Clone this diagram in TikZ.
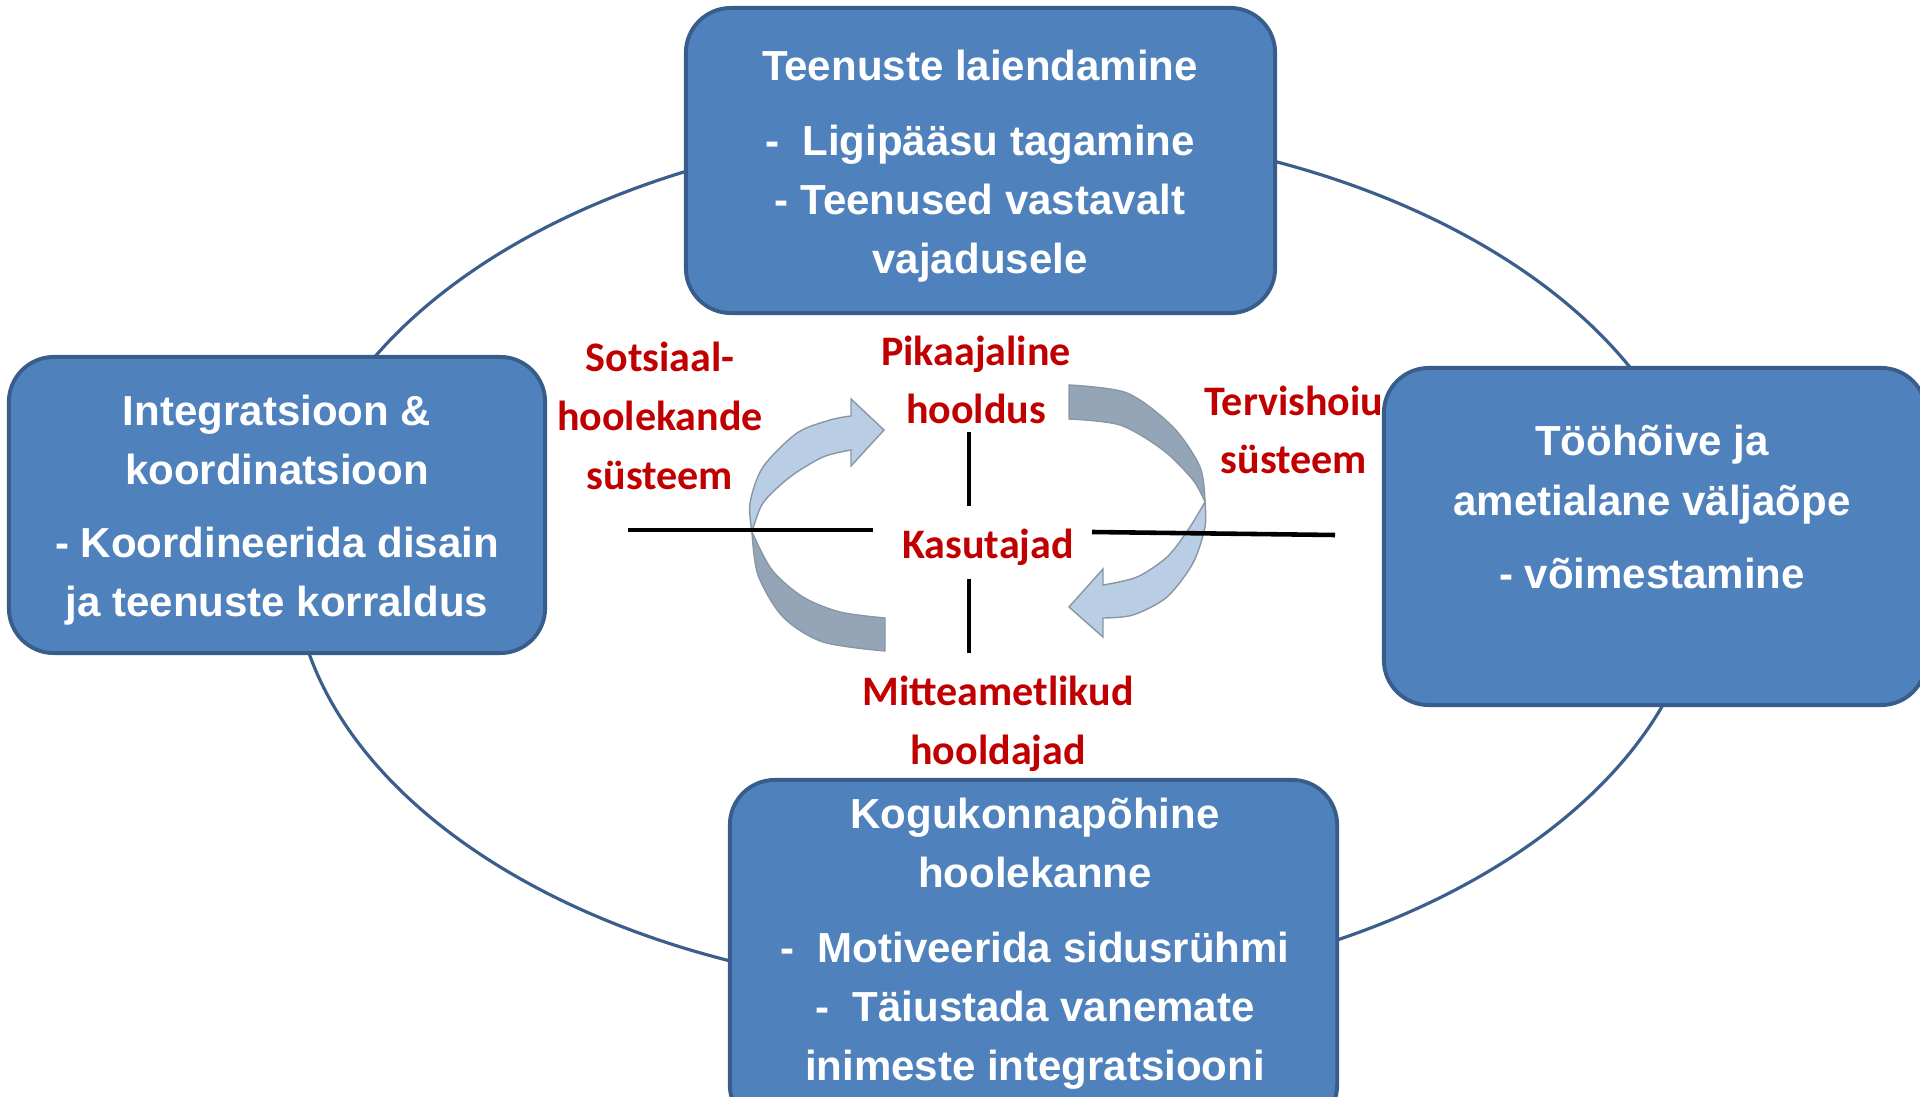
\documentclass[tikz,border=0pt]{standalone}
\usepackage{fontspec}
\setmainfont{Liberation Sans}
\newfontfamily\calibrifont{Carlito}
\usepackage{tikz}

\begin{document}
\begin{tikzpicture}[x=0.01cm,y=-0.01cm,
    box/.style={draw=boxline,fill=boxfill,line width=1.1pt,rounded corners=0.45cm,inner sep=0pt,outer sep=0pt},
    boxtext/.style={text=white,font=\fontsize{11.95}{16.8}\selectfont\bfseries,align=center,inner sep=0pt},
    redtext/.style={text=redlabel,font=\calibrifont\fontsize{11.95}{16.7}\selectfont\bfseries,align=center,inner sep=0pt},
    ring/.style={draw=ringline,line width=0.9pt},
    crossline/.style={line width=1.3pt,black},
    lightarrow/.style={fill=arrowlight,draw=arrowedge,line width=0.4pt},
    darkarrow/.style={fill=arrowdark,draw=arrowedge,line width=0.4pt}]

    \definecolor{boxfill}{HTML}{4F81BD}
    \definecolor{boxline}{HTML}{385D8A}
    \definecolor{ringline}{HTML}{3B5E8C}
    \definecolor{redlabel}{HTML}{C00000}
    \definecolor{arrowlight}{HTML}{B9CDE5}
    \definecolor{arrowdark}{HTML}{95A5B8}
    \definecolor{arrowedge}{HTML}{8A96A4}
    \useasboundingbox (0,0) rectangle (1920,1097);
    \clip (0,0) rectangle (1920,1097);

    \draw[ring] (998,560) ellipse [x radius=7.05cm, y radius=4.33cm];

    \filldraw[darkarrow] plot[smooth] coordinates {(752,532) (758,575) (783,617) (823,642) (885,651)} -- (885,618) -- plot[smooth] coordinates {(885,618) (840,612) (803,597) (772,570) (752,532)} -- cycle;
    \filldraw[lightarrow] plot[smooth] coordinates {(752,532) (750,503) (763,467) (797,433) (830,420) (851,416)} -- (851,399) -- (884,430) -- (851,466) -- plot[smooth] coordinates {(851,450) (823,457) (790,477) (763,503) (752,532)} -- cycle;
    \filldraw[darkarrow] plot[smooth] coordinates {(1069,385) (1127,393) (1173,427) (1200,467) (1205,502)} -- plot[smooth] coordinates {(1205,502) (1193,480) (1163,450) (1120,425) (1069,419)} -- cycle;
    \filldraw[lightarrow] plot[smooth] coordinates {(1205,502) (1205,527) (1193,563) (1167,597) (1133,615) (1103,618)} -- (1103,637) -- (1069,607) -- (1103,569) -- plot[smooth] coordinates {(1103,585) (1137,577) (1167,557) (1188,530) (1205,502)} -- cycle;

    \coordinate (westout) at (628,530);
    \coordinate (westin) at (873,530);
    \coordinate (eastin) at (1092,532);
    \coordinate (eastout) at (1335,535);
    \coordinate (northout) at (969,432);
    \coordinate (northin) at (969,506);
    \coordinate (southin) at (969,579);
    \coordinate (southout) at (969,653);
    \draw[crossline] (westout) -- (westin);
    \draw[crossline] (eastin) -- (eastout);
    \draw[crossline] (northout) -- (northin);
    \draw[crossline] (southin) -- (southout);

    \node[redtext] (social) at (660,416) {Sotsiaal-\\hoolekande\\süsteem};
    \node[redtext] (health) at (1294,430) {Tervishoiu\\süsteem};
    \node[redtext] (longterm) at (976,380) {Pikaajaline\\hooldus};
    \node[redtext] (users) at (988,547) {Kasutajad};
    \node[redtext] (carers) at (998,724) {Mitteametlikud\\hooldajad};

    \node[box,minimum width=5.89cm,minimum height=3.05cm] (expand) at (980.5,160.5) {};
    \node[boxtext] (expandtext) at (980,166) {Teenuste laiendamine\\[0.16cm]-\ \ Ligipääsu tagamine\\- Teenused vastavalt\\vajadusele};

    \node[box,minimum width=5.36cm,minimum height=2.96cm] (integr) at (277,505) {};
    \node[boxtext] (integrtext) at (277,510.5) {Integratsioon \&\\koordinatsioon\\[0.14cm]- Koordineerida disain\\ja teenuste korraldus};

    \node[box,minimum width=5.42cm,minimum height=3.37cm] (employ) at (1655,536.5) {};
    \node[boxtext] (employtext) at (1652,507) {Tööhõive ja\\ametialane väljaõpe\\[0.14cm]- võimestamine};

    \node[box,minimum width=6.07cm,minimum height=3.5cm] (community) at (1033.5,955) {};
    \node[boxtext] (communitytext) at (1035,944) {Kogukonnapõhine\\hoolekanne\\[0.16cm]-\ \ Motiveerida sidusrühmi\\-\ \ Täiustada vanemate\\inimeste integratsiooni};
\end{tikzpicture}
\end{document}
